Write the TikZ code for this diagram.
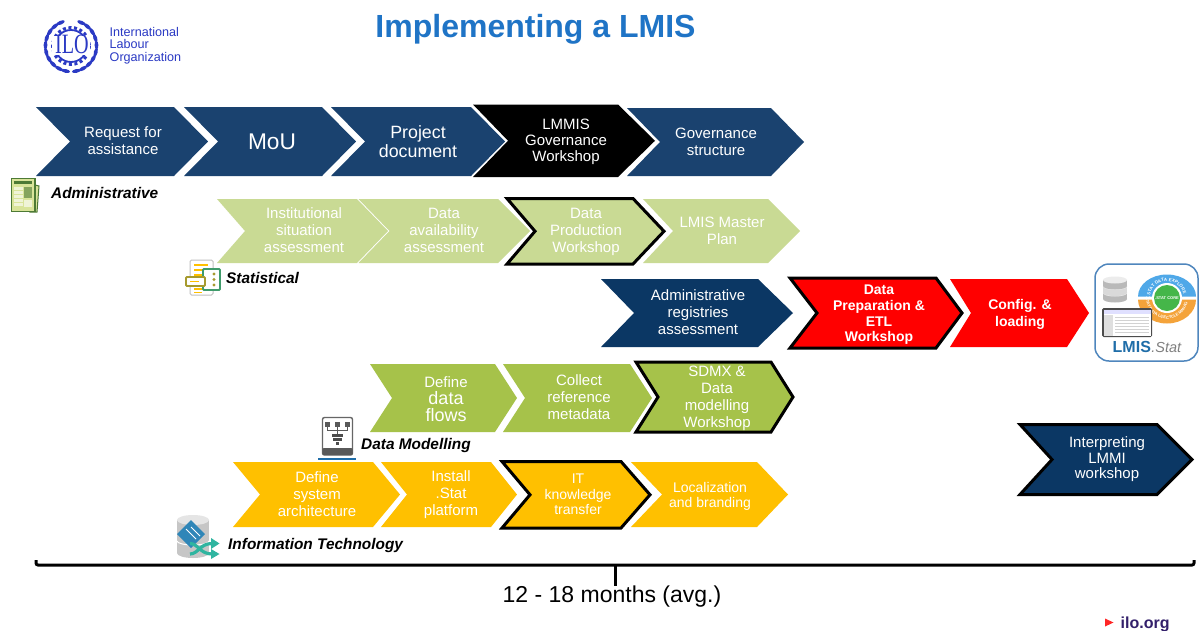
\documentclass[tikz,border=0pt]{standalone}
\usepackage{fontspec}
\setmainfont{Liberation Sans}
\newfontfamily\logoserif{Liberation Serif}
\usetikzlibrary{decorations.text}
\definecolor{navyA}{HTML}{1A426F}
\definecolor{navyB}{HTML}{0B3764}
\definecolor{paleG}{HTML}{C9DA94}
\definecolor{midG}{HTML}{A6C24A}
\definecolor{amberY}{HTML}{FFC000}
\definecolor{redR}{HTML}{FF0000}
\definecolor{titleB}{HTML}{1F74C6}
\definecolor{iloB}{HTML}{2B3AC4}
\definecolor{darkG}{HTML}{4D7A35}
\definecolor{sheetG}{HTML}{D9E49A}
\definecolor{frameB}{HTML}{4F86BD}
\definecolor{tealS}{HTML}{2FB5A0}
\definecolor{diaB}{HTML}{2F86B8}
\definecolor{lmisB}{HTML}{1F6DA8}
\definecolor{boxG}{HTML}{3F9B6B}
\definecolor{boxO}{HTML}{A69A2E}
\definecolor{orgV}{HTML}{33206B}
\definecolor{ringB}{HTML}{4FA8E8}
\definecolor{ringO}{HTML}{F4A33A}
\definecolor{coreG}{HTML}{45B649}
\newcommand{\chev}[7]{\pgfmathsetmacro\mymid{(#5+#6)/2}\draw[#7] (#1,#5) -- (#3,#5) -- (#4,\mymid) -- (#3,#6) -- (#1,#6) -- (#2,\mymid) -- cycle;}
\tikzset{
  lab/.style={text=white,align=center,inner sep=0pt,font=\fontsize{15}{17}\selectfont},
  labS/.style={lab,font=\fontsize{14}{15.6}\selectfont},
  labB/.style={lab,font=\fontsize{14}{15.6}\selectfont\bfseries},
  track/.style={text=black,inner sep=0pt,anchor=west,font=\fontsize{15.4}{17}\selectfont\bfseries\itshape},
  plainN/.style={fill=navyA,draw=none},
  plainK/.style={fill=navyB,draw=none},
  plainP/.style={fill=paleG,draw=none},
  plainM/.style={fill=midG,draw=none},
  plainY/.style={fill=amberY,draw=none},
  plainR/.style={fill=redR,draw=none},
  rim/.style={draw=black,line width=3pt,miter limit=10},
}
\begin{document}
\begin{tikzpicture}[x=1pt,y=-1pt]
\useasboundingbox (0,0) rectangle (1201,630);
\fill[white] (0,0) rectangle (1201,630);

% title
\node[text=titleB,inner sep=0pt,font=\fontsize{32}{36}\selectfont\bfseries] (title) at (535.5,29) {Implementing a LMIS};

% ILO logo
\foreach \a in {-78,-62,-46,-30,-14,2,18,34,50,66}{
  \fill[iloB,shift={(71,46)},rotate=\a] (25.5,0) ellipse[x radius=1.9,y radius=4.4];
  \fill[iloB,shift={(71,46)},rotate=180-\a] (25.5,0) ellipse[x radius=1.9,y radius=4.4];
}
\draw[iloB,line width=1.8pt] (71,46) circle[radius=16];
\draw[iloB,line width=3pt,dash pattern=on 3pt off 2.6pt] (71,46) circle[radius=18.4];
\fill[white] (52,36) rectangle (90,55);
\node[text=iloB,inner sep=0pt,xscale=.72,transform shape,font=\fontsize{28}{28}\logoserif\selectfont] (iloemblem) at (72,44) {ILO};
\node[text=iloB,inner sep=0pt,anchor=west,align=left,font=\fontsize{12.6}{12.6}\selectfont] (ilotext) at (109.5,45.5) {International\\Labour\\Organization};

% row 1
\chev{36}{70}{174}{208}{107}{176}{plainN}
\chev{184}{218}{322}{356}{107}{176}{plainN}
\chev{331}{365}{471}{505}{107}{176}{plainN}
\chev{473}{508}{618}{655}{104.5}{177}{fill=black,draw=none}
\chev{627}{660}{771}{804}{108}{176}{plainN}
\node[lab] (req) at (123,141) {Request for\\assistance};
\node[lab,text=white,font=\fontsize{22.7}{25}\selectfont] (mou) at (272,141.5) {MoU};
\node[lab,font=\fontsize{17.8}{19}\selectfont] (prj) at (418,141.5) {Project\\document};
\node[lab,font=\fontsize{15}{16}\selectfont] (gws) at (566,141.5) {LMMIS\\Governance\\Workshop};
\node[lab] (gov) at (716,141.5) {Governance\\structure};
\node[track] (tadm) at (51,193) {Administrative};

% row 2
\chev{217}{245}{357}{388}{199}{263}{plainP}
\chev{358.5}{389.5}{498}{530}{199}{263}{plainP}
\chev{507}{535}{633}{664}{198.5}{264}{plainP,rim}
\chev{643}{673}{768}{800}{199}{263}{plainP}
\node[lab] (inst) at (304,230.5) {Institutional\\situation\\assessment};
\node[lab] (avail) at (444,230.5) {Data\\availability\\assessment};
\node[lab] (dpw) at (586,231.5) {Data\\Production\\Workshop};
\node[lab] (mplan) at (722,230.5) {LMIS Master\\Plan};
\node[track] (tsta) at (226,278) {Statistical};

% row 3
\chev{601}{634}{758}{793}{279}{347}{plainK}
\chev{790}{817}{936}{962}{278}{348}{plainR,rim}
\chev{950}{971}{1067}{1089}{279}{347}{plainR}
\node[lab] (areg) at (698,312.5) {Administrative\\registries\\assessment};
\node[labB] (etl) at (879,315) {Data\\Preparation \&\\ETL\\Workshop};
\node[labB,font=\fontsize{14}{17}\selectfont\bfseries] (cfg) at (1020,314) {Config. \&\\loading};

% row 4
\chev{370}{392}{495}{517}{364}{432}{plainM}
\chev{503}{525}{630}{652}{364}{432}{plainM}
\chev{636}{658}{771}{793}{362}{432}{plainM,rim}
\node[lab,inner sep=0pt] (flows) at (446,399) {\fontsize{15}{17}\selectfont Define\\\fontsize{18}{17.5}\selectfont data\\\fontsize{18}{20.5}\selectfont flows};
\node[lab] (meta) at (579,397) {Collect\\reference\\metadata};
\node[lab] (sdmx) at (717,398) {SDMX \&\\Data\\modelling\\Workshop};
\node[track] (tdat) at (361,446) {Data Modelling};

% row 5
\chev{233}{260}{373}{400}{462}{527}{plainY}
\chev{381}{407}{491}{517}{462}{527}{plainY}
\chev{502}{530}{621}{650}{461.5}{528}{plainY,rim}
\chev{631}{662}{757}{788}{462}{527}{plainY}
\node[lab] (arch) at (317,494) {Define\\system\\architecture};
\node[lab] (inst2) at (451,494.5) {Install\\.Stat\\platform};
\node[labS] (itk) at (578,494.5) {IT\\knowledge\\transfer};
\node[labS] (loc) at (710,496.5) {Localization\\and branding};
\node[track] (tit) at (228,546) {Information Technology};

% interpreting
\chev{1020}{1052}{1157}{1192}{424.5}{494.5}{plainK,rim}
\node[lab,font=\fontsize{15}{15.5}\selectfont] (intp) at (1107,459.5) {Interpreting\\LMMI\\workshop};

% LMIS.Stat box
\draw[frameB,line width=1.5pt,fill=white,rounded corners=14pt] (1095,264) rectangle (1198,361);
% database
\foreach \yy/\cc in {297/gray!55,290.5/gray!30,284/gray!55}{
  \fill[\cc] (1103,\yy-4) rectangle (1127,\yy+2);
  \fill[\cc] (1115,\yy+2) ellipse[x radius=12,y radius=3.5];
  \fill[white!85!gray] (1115,\yy-4) ellipse[x radius=12,y radius=3.5];
}
% circle
\fill[ringO] (1138,299.5) arc[start angle=180,end angle=360,x radius=29,y radius=-24];
\fill[ringB] (1138,296.5) arc[start angle=180,end angle=0,x radius=29,y radius=-22];
\fill[white] (1167,298) circle[radius=15];
\fill[coreG] (1167,298) circle[radius=13];
\node[text=white,inner sep=0pt,font=\fontsize{4}{4}\selectfont\bfseries] (core) at (1167,298) {.STAT CORE};
\begin{scope}[shift={(1167,298)},x=1pt,y=1pt]
\path[decorate,decoration={text along path,text align=center,text color=white,text={|\fontsize{4.4}{5}\selectfont\bfseries|.STAT DATA EXPLORER}}] (165:17) arc[start angle=165,end angle=15,radius=17];
\path[decorate,decoration={text along path,text align=center,text color=white,text={|\fontsize{4}{5}\selectfont\bfseries|.STAT DATA LIFECYCLE MANAGER}}] (190:21) arc[start angle=190,end angle=350,radius=21];
\end{scope}
% tablet
\fill[black!70,rounded corners=1.5pt] (1102,308) rectangle (1152,337);
\fill[white] (1103.5,309.5) rectangle (1150.5,335.5);
\fill[blue!12] (1103.5,309.5) rectangle (1150.5,314);
\fill[gray!25] (1103.5,315) rectangle (1113,335.5);
\foreach \yy in {317,320,...,333}{\fill[gray!35] (1115,\yy) rectangle (1149,\yy+1);}
\node[inner sep=0pt,anchor=base west,text=lmisB,font=\fontsize{16}{16}\selectfont\bfseries] (lmisa) at (1112.5,352) {LMIS};
\node[inner sep=0pt,anchor=base west,text=gray,font=\fontsize{14.5}{16}\selectfont\itshape] (lmisb) at (lmisa.base east) {.Stat};

% administrative icon
\fill[sheetG,draw=darkG,line width=1pt] (35,185) -- (39,186) -- (37,212) -- (30,212) -- cycle;
\fill[sheetG,draw=darkG,line width=1.2pt] (11.5,178.5) rectangle (35,211.5);
\fill[darkG] (14,181) rectangle (32,184);
\foreach \yy in {187,191,...,204}{\fill[white!60!sheetG] (14,\yy) rectangle (23,\yy+2.5);}
\fill[darkG!60!sheetG] (24,187) rectangle (32,198);
\fill[white!60!sheetG] (24,200) rectangle (32,207);

% statistical icon
\draw[gray!50,line width=1pt,fill=white,rounded corners=1.5pt] (190,260) rectangle (213,295);
\foreach \yy in {265,270,275}{\draw[amberY,line width=1.4pt] (194,\yy) -- (208,\yy);}
\foreach \yy in {289,292.5}{\draw[amberY,line width=1.4pt] (194,\yy) -- (202,\yy);}
\draw[boxG,line width=1.8pt,fill=white,rounded corners=1pt] (203,269) rectangle (220,290);
\foreach \yy in {274,279.5,285}{\fill[boxO] (214,\yy) circle[radius=1.6];}
\draw[boxO,line width=1.8pt,fill=white,rounded corners=1pt] (186,277) rectangle (205,286);
\draw[amberY,line width=1.4pt] (190,281.5) -- (199,281.5);

% data modelling icon
\draw[black!60,line width=1.4pt,fill=white,rounded corners=2pt] (322.5,417.5) rectangle (352.5,455);
\fill[black!65,rounded corners=1pt] (322.5,448) rectangle (352.5,455);
\foreach \xx in {327.5,337.5,347.5}{\fill[black!65] (\xx-2.5,421.5) rectangle (\xx+2.5,426.5);}
\draw[black!65,line width=.8pt] (327.5,426.5) -- (327.5,430) -- (347.5,430) -- (347.5,426.5) (337.5,426.5) -- (337.5,434);
\fill[black!70] (332,434) rectangle (343,437);
\fill[black!70] (333,438) rectangle (342,441);
\fill[black!70] (336,442) rectangle (339,445);
\draw[lmisB,line width=1.8pt] (318,459) -- (356,459);

% IT icon
\fill[gray!45] (177,520) rectangle (209,553);
\fill[gray!45] (193,553) ellipse[x radius=16,y radius=5];
\fill[gray!20] (193,520) ellipse[x radius=16,y radius=5];
\draw[white,line width=1pt] (177,541) arc[start angle=180,end angle=360,x radius=16,y radius=-4];
\fill[diaB] (177,534) -- (191,520) -- (205,534) -- (191,548) -- cycle;
\draw[white,line width=1pt] (186,529) -- (196,539) (191,527) -- (200,536);
\draw[tealS,line width=3.2pt] (190,543.5) .. controls (198,543.5) and (200,554) .. (212,554);
\draw[tealS,line width=3.2pt] (190,554) .. controls (198,554) and (200,543.5) .. (212,543.5);
\fill[tealS] (211,538) -- (219.5,543.5) -- (211,549) -- cycle;
\fill[tealS] (211,549) -- (219.5,554) -- (211,559) -- cycle;

% bracket
\coordinate (brL) at (36,560);
\coordinate (brLb) at (36,565);
\coordinate (brRb) at (1194,565);
\coordinate (brR) at (1194,560);
\coordinate (brM) at (615,565);
\coordinate (brT) at (615,586);
\draw[black,line width=3pt,rounded corners=2pt] (brL) -- (brLb) -- (brRb) -- (brR);
\draw[black,line width=3pt] (brM) -- (brT);
\node[inner sep=0pt,text=black,font=\fontsize{23}{26}\selectfont] (dur) at (612,597) {12 - 18 months (avg.)};

% ilo.org
\fill[red!80!pink] (1105,618.5) -- (1113.5,622.5) -- (1105,626.5) -- cycle;
\node[inner sep=0pt,anchor=base west,text=orgV,font=\fontsize{16}{16}\selectfont\bfseries] (iloorg) at (1120.5,628) {ilo.org};
\end{tikzpicture}
\end{document}
